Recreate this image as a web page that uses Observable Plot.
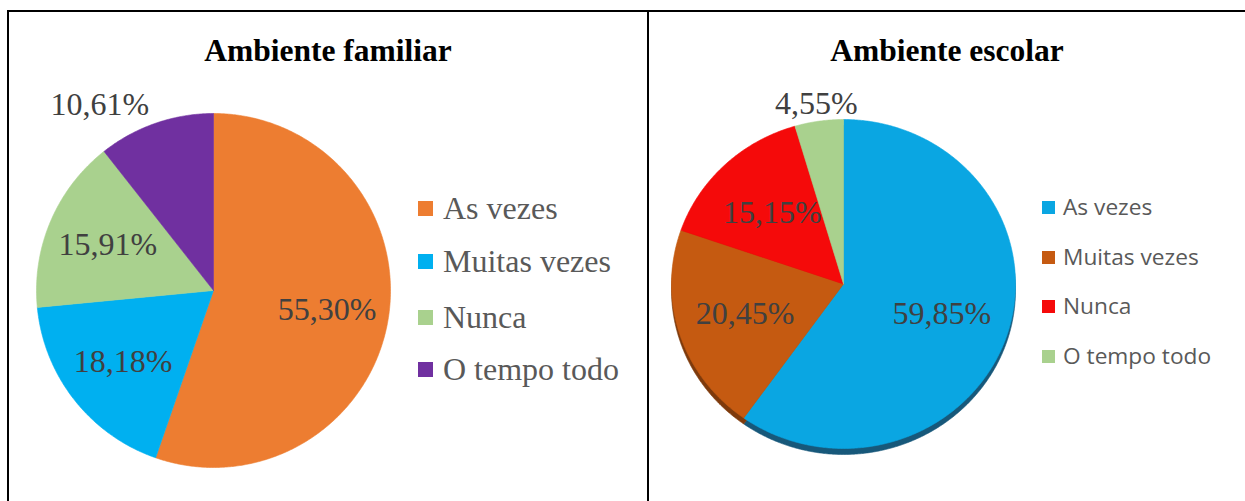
<!DOCTYPE html>
<html>
<head>
<meta charset="utf-8">
<script src="https://cdn.jsdelivr.net/npm/d3@7"></script>
<script src="https://cdn.jsdelivr.net/npm/@observablehq/plot@0.6"></script>
<style>
  body { margin: 0; background: #fff; }
  #page { position: relative; width: 1245px; height: 501px; overflow: hidden; background: #fff; }
  .frame { position: absolute; left: 7px; top: 10px; width: 1300px; height: 600px;
           border-top: 2px solid #000; border-left: 2px solid #000; box-sizing: border-box; }
  .divider { position: absolute; left: 647px; top: 10px; width: 2px; height: 600px; background: #000; }
  .panel { position: absolute; top: 12px; height: 489px; }
  .panel svg { position: absolute; left: 0; top: 0; overflow: visible; }
  .title { position: absolute; left: 0; right: 0; text-align: center; color: #000;
           font-family: "Liberation Serif", "Times New Roman", serif; font-weight: bold; font-size: 31.5px; line-height: 36px; }
  .legend-item { position: absolute; display: flex; align-items: center; white-space: nowrap; height: 40px; }
  .legend-item .sw { flex: none; }
</style>
</head>
<body>
<div id="page">
  <div class="frame"></div>
  <div class="divider"></div>
</div>
<script>
// ---- data ----
const categories = ["As vezes", "Muitas vezes", "Nunca", "O tempo todo"];
const familiarValues = [55.30, 18.18, 15.91, 10.61];
const escolarValues = [59.85, 20.45, 15.15, 4.55];
const titles = ["Ambiente familiar", "Ambiente escolar"];

// ---- styles ----
const familiarColors = ["#ED7D31", "#00B0F0", "#A9D18E", "#7030A0"];
const escolarColors = ["#0AA6E2", "#C55A11", "#F50A0A", "#A9D18E"];
const escolarDepthColors = ["#17587A", "#7E3A0C", "#9A0606", "#6E8C5C"];

const fmt = v => v.toFixed(2).replace(".", ",") + "%";

function sliceRows(values) {
  const arcs = d3.pie().sort(null).value(d => d)(values);
  const rows = [];
  arcs.forEach((a, i) => {
    const cat = categories[i];
    rows.push({cat, x: 0, y: 0});
    const n = Math.max(2, Math.ceil((a.endAngle - a.startAngle) / (Math.PI / 360)));
    for (let k = 0; k <= n; k++) {
      const t = a.startAngle + (a.endAngle - a.startAngle) * k / n;
      rows.push({cat, x: Math.sin(t), y: Math.cos(t)});
    }
    rows.push({cat, x: 0, y: 0});
  });
  return rows;
}

function labelRows(values, inner) {
  const arcs = d3.pie().sort(null).value(d => d)(values);
  return arcs.map((a, i) => {
    const mid = (a.startAngle + a.endAngle) / 2;
    const outside = values[i] < 12;
    const rr = outside ? 1.11 : inner;
    const s = Math.sin(mid);
    const anchor = !outside ? "middle" : (Math.abs(s) < 0.3 ? "middle" : (s < 0 ? "end" : "start"));
    return {cat: categories[i], x: rr * s, y: rr * Math.cos(mid), text: fmt(values[i]), outside, anchor};
  });
}

function piePlot({values, colors, depthColors, width, height, cx, cy, rx, ry, inner}) {
  const rows = sliceRows(values);
  const labels = labelRows(values, inner);
  const marks = [];
  if (depthColors) {
    categories.forEach((c, i) => {
      marks.push(Plot.line(rows.filter(r => r.cat === c), {x: "x", y: "y", fill: depthColors[i], stroke: depthColors[i], strokeWidth: 0.6, dy: 6}));
    });
  }
  marks.push(Plot.line(rows, {x: "x", y: "y", z: "cat", fill: "cat", stroke: "cat", strokeWidth: 0.6}));
  const textOpts = {x: "x", y: "y", text: "text", fontSize: 32, fontFamily: "Liberation Serif", fill: "#404040"};
  ["middle", "end", "start"].forEach(anc => {
    const sub = labels.filter(l => l.anchor === anc);
    if (sub.length) marks.push(Plot.text(sub, {...textOpts, textAnchor: anc}));
  });
  return Plot.plot({
    width, height,
    margin: 0,
    x: {domain: [-1, 1], range: [cx - rx, cx + rx], axis: null},
    y: {domain: [-1, 1], range: [cy + ry, cy - ry], axis: null},
    color: {domain: categories, range: colors},
    style: {background: "transparent", overflow: "visible"},
    marks
  });
}

const panels = [
  {left: 9, width: 638, values: familiarValues, colors: familiarColors, depthColors: null, inner: 0.65,
   cx: 204, cy: 278, rx: 177, ry: 177, title: titles[0], titleTop: 21,
   legend: {x: 418, rows: [208, 261, 317, 369], sw: 15, gap: 10, font: '"Liberation Serif", serif', size: 32, color: "#595959"}},
  {left: 649, width: 596, values: escolarValues, colors: escolarColors, depthColors: escolarDepthColors, inner: 0.6,
   cx: 194, cy: 271.5, rx: 172, ry: 164.5, title: titles[1], titleTop: 21,
   legend: {x: 1042, rows: [207, 257, 306.5, 356], sw: 13, gap: 8, font: '"Open Sans", sans-serif', size: 22.7, color: "#595959"}}
];

const page = document.getElementById("page");
panels.forEach(p => {
  const div = document.createElement("div");
  div.className = "panel";
  div.style.left = p.left + "px";
  div.style.width = p.width + "px";
  const chart = piePlot({values: p.values, colors: p.colors, depthColors: p.depthColors, inner: p.inner,
    width: p.width, height: 489, cx: p.cx, cy: p.cy, rx: p.rx, ry: p.ry});
  div.appendChild(chart);
  const t = document.createElement("div");
  t.className = "title";
  t.style.top = p.titleTop + "px";
  t.textContent = p.title;
  div.appendChild(t);
  page.appendChild(div);

  const color = chart.scale("color");
  color.domain.forEach((c, i) => {
    const item = document.createElement("div");
    item.className = "legend-item";
    item.style.left = p.legend.x + "px";
    item.style.top = (p.legend.rows[i] - 20) + "px";
    const sw = document.createElement("span");
    sw.className = "sw";
    sw.style.width = p.legend.sw + "px";
    sw.style.height = p.legend.sw + "px";
    sw.style.background = color.range[i];
    sw.style.marginRight = p.legend.gap + "px";
    const tx = document.createElement("span");
    tx.textContent = c;
    tx.style.fontFamily = p.legend.font;
    tx.style.fontSize = p.legend.size + "px";
    tx.style.color = p.legend.color;
    tx.style.lineHeight = "1";
    item.appendChild(sw);
    item.appendChild(tx);
    page.appendChild(item);
  });
});
</script>
</body>
</html>
